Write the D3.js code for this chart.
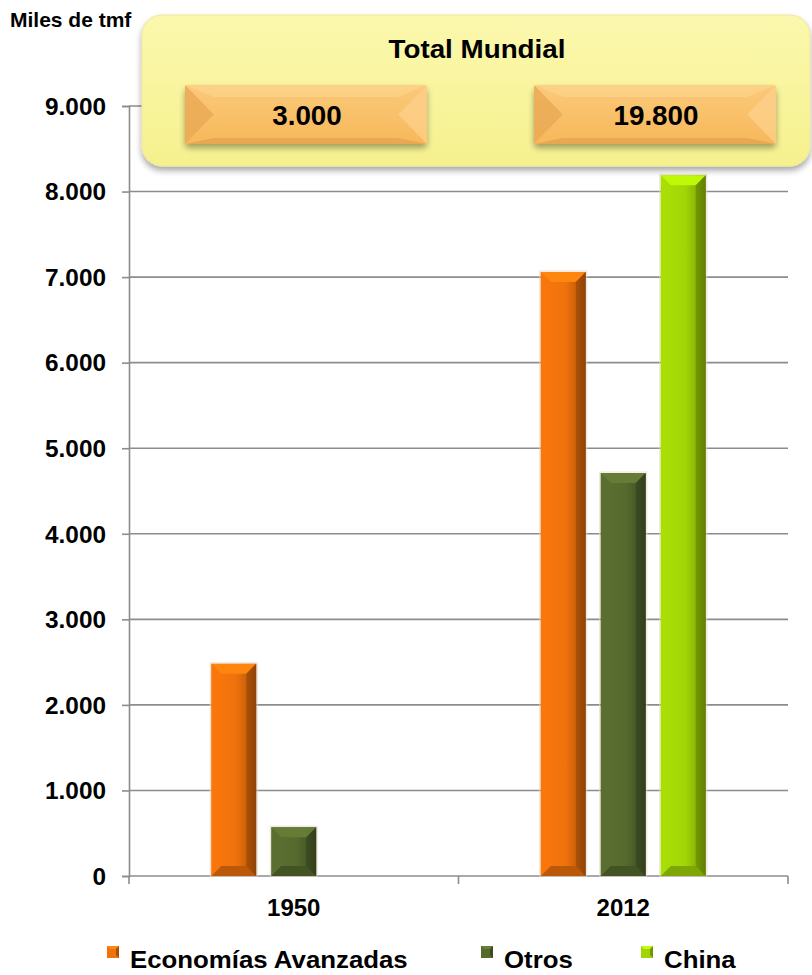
<!DOCTYPE html>
<html><head><meta charset="utf-8">
<script src="https://cdn.jsdelivr.net/npm/d3@7"></script>
<style>
html,body{margin:0;padding:0;background:#fff;}
svg{display:block;font-family:"Liberation Sans",Arial,sans-serif;}
</style></head>
<body><svg id="c" width="812" height="975"></svg>
<script>
const years = ["1950", "2012"];
const seriesNames = ["Economías Avanzadas", "Otros", "China"];
const economiasAvanzadas = [2480, 7060];
const otros = [570, 4710];
const china = [0, 8190];
const totals = ["3.000", "19.800"];
const yTicks = [0, 1000, 2000, 3000, 4000, 5000, 6000, 7000, 8000, 9000];
const colors = ["#ef720c", "#566a2e", "#a2d506"];

const svg = d3.select("#c");
const defs = svg.append("defs");
const x0 = d3.scaleBand().domain(years).range([129, 788]).paddingInner(0).paddingOuter(0);
const x1 = d3.scaleBand().domain(seriesNames).range([0, x0.bandwidth()]).paddingInner(0.25).paddingOuter(1.371);
const y = d3.scaleLinear().domain([0, 9000]).range([876, 106]);
const fmt = v => d3.format(",")(v).replace(/,/g, ".");
// widen text slightly (reference glyphs are a bit wider than Liberation Sans)
function widen(sel, k) {
  sel.each(function() {
    const L = this.getComputedTextLength();
    d3.select(this).attr("textLength", L * k).attr("lengthAdjust", "spacingAndGlyphs");
  });
}

// gridlines
svg.append("g").selectAll("line").data(yTicks.filter(d => d > 0)).join("line")
  .attr("x1", 129).attr("x2", 788).attr("y1", d => y(d)).attr("y2", d => y(d))
  .attr("stroke", "#8c8c8c").attr("stroke-width", 1.6);

// axes
const yAxis = svg.append("g").attr("transform", "translate(129,0)")
  .call(d3.axisLeft(y).tickValues(yTicks).tickFormat(fmt).tickSize(7).tickPadding(16));
yAxis.select(".domain").attr("stroke", "#8c8c8c").attr("stroke-width", 1.6);
yAxis.selectAll(".tick line").attr("stroke", "#8c8c8c").attr("stroke-width", 1.6);
yAxis.selectAll("text").attr("font-size", 23).attr("font-weight", "bold").attr("fill", "#000")
  .attr("font-family", "'Liberation Sans',Arial,sans-serif").attr("dy", "0.36em");
widen(yAxis.selectAll("text"), 1.06);

const xAxis = svg.append("g").attr("transform", "translate(0,876)")
  .call(d3.axisBottom(x0).tickSize(0).tickPadding(23));
xAxis.select(".domain").attr("stroke", "#8c8c8c").attr("stroke-width", 1.6).attr("d", "M129,0H788");
xAxis.selectAll("text").attr("font-size", 24).attr("font-weight", "bold").attr("fill", "#000")
  .attr("font-family", "'Liberation Sans',Arial,sans-serif");
svg.append("g").selectAll("line").data([129, 458.5, 788]).join("line")
  .attr("x1", d => d).attr("x2", d => d).attr("y1", 876).attr("y2", 884)
  .attr("stroke", "#8c8c8c").attr("stroke-width", 1.6);

// bar gradients
colors.forEach((c, i) => {
  const g = defs.append("linearGradient").attr("id", "hg" + i).attr("x1", 0).attr("x2", 1).attr("y1", 0).attr("y2", 0);
  const base = d3.color(c);
  g.append("stop").attr("offset", 0).attr("stop-color", base.brighter(0.15));
  g.append("stop").attr("offset", 0.55).attr("stop-color", base);
  g.append("stop").attr("offset", 0.82).attr("stop-color", base.darker(0.5));
  g.append("stop").attr("offset", 1).attr("stop-color", base.darker(1.5));
});

const data = [];
years.forEach((yr, j) => {
  [economiasAvanzadas, otros, china].forEach((arr, i) => {
    if (arr[j] > 0) data.push({year: yr, s: seriesNames[i], i, v: arr[j]});
  });
});

const bars = svg.append("g").selectAll("g").data(data).join("g")
  .attr("transform", d => `translate(${x0(d.year) + x1(d.s)},0)`);
bars.each(function(d) {
  const g = d3.select(this);
  const w = x1.bandwidth(), top = y(d.v), bot = y(0), h = bot - top;
  const b = Math.min(10, h / 3);
  const base = d3.color(colors[d.i]);
  g.append("rect").attr("x", -1).attr("y", top - 1).attr("width", w + 2).attr("height", h + 1)
    .attr("fill", "none").attr("stroke", "#ead8cc").attr("stroke-width", 1.2).attr("opacity", 0.7);
  g.append("rect").attr("x", 0).attr("y", top).attr("width", w).attr("height", h).attr("fill", `url(#hg${d.i})`);
  g.append("path").attr("d", `M0,${top}H${w}L${w - b},${top + b}H${b}Z`).attr("fill", base.brighter(0.45));
  g.append("path").attr("d", `M0,${bot}H${w}L${w - b},${bot - b}H${b}Z`).attr("fill", base.darker(0.7));
  g.append("path").attr("d", `M${w},${top}V${bot}L${w - b},${bot - b}V${top + b}Z`).attr("fill", base.darker(1.4)).attr("opacity", 0.6);
  g.append("path").attr("d", `M0,${top}V${bot}L${b},${bot - b}V${top + b}Z`).attr("fill", base.brighter(0.1)).attr("opacity", 0.5);
});

// Miles de tmf
svg.append("text").attr("x", 10).attr("y", 27).text("Miles de tmf")
  .attr("font-size", 21).attr("font-weight", "bold").attr("fill", "#000");

// Total Mundial box
const sh = defs.append("filter").attr("id", "sh").attr("x", -0.1).attr("y", -0.2).attr("width", 1.2).attr("height", 1.5);
sh.append("feDropShadow").attr("dx", 0).attr("dy", 4).attr("stdDeviation", 3).attr("flood-color", "#000").attr("flood-opacity", 0.35);
const yg = defs.append("linearGradient").attr("id", "yg").attr("x1", 0).attr("x2", 0).attr("y1", 0).attr("y2", 1);
yg.append("stop").attr("offset", 0).attr("stop-color", "#fbf8ae");
yg.append("stop").attr("offset", 1).attr("stop-color", "#f6f18e");
svg.append("rect").attr("x", 142).attr("y", 15).attr("width", 668).attr("height", 151).attr("rx", 20)
  .attr("fill", "url(#yg)").attr("stroke", "#eee79a").attr("stroke-width", 1).attr("filter", "url(#sh)");
svg.append("text").attr("x", 477).attr("y", 58).attr("text-anchor", "middle").text("Total Mundial")
  .attr("font-size", 26).attr("font-weight", "bold").attr("fill", "#000")
  .attr("textLength", 177).attr("lengthAdjust", "spacingAndGlyphs");

const og = defs.append("linearGradient").attr("id", "og").attr("x1", 0).attr("x2", 0).attr("y1", 0).attr("y2", 1);
og.append("stop").attr("offset", 0).attr("stop-color", "#fbc97a");
og.append("stop").attr("offset", 1).attr("stop-color", "#f7b85a");
const btnX = [185, 534];
const btn = svg.append("g").selectAll("g").data(totals).join("g")
  .attr("transform", (d, i) => `translate(${btnX[i]},85)`);
const bw = 242, bh = 59, bb = 12;
btn.append("rect").attr("width", bw).attr("height", bh).attr("rx", 4).attr("fill", "url(#og)").attr("filter", "url(#sh)");
btn.append("path").attr("d", `M0,0L${bb * 2.4},${bh / 2}L0,${bh}Z`).attr("fill", "#eaa955").attr("opacity", 0.8);
btn.append("path").attr("d", `M${bw},0L${bw - bb * 2.4},${bh / 2}L${bw},${bh}Z`).attr("fill", "#fcd08a").attr("opacity", 0.8);
btn.append("path").attr("d", `M0,0H${bw}L${bw - bb * 2.4},${bb}H${bb * 2.4}Z`).attr("fill", "#fdd58f").attr("opacity", 0.6);
btn.append("path").attr("d", `M0,${bh}H${bw}L${bw - bb * 2.4},${bh - 6}H${bb * 2.4}Z`).attr("fill", "#d9974a").attr("opacity", 0.5);
const btnText = btn.append("text").attr("x", bw / 2 + 1).attr("y", 40).attr("text-anchor", "middle").text(d => d)
  .attr("font-size", 27).attr("font-weight", "bold").attr("fill", "#000");
widen(btnText, 1.03);

// legend
const legX = [107, 481, 641];
const leg = svg.append("g").selectAll("g").data(seriesNames).join("g")
  .attr("transform", (d, i) => `translate(${legX[i]},946)`);
leg.append("rect").attr("width", 12).attr("height", 12).attr("fill", (d, i) => colors[i]);
leg.append("path").attr("d", "M0,0H12L9,3H3Z").attr("fill", (d, i) => d3.color(colors[i]).brighter(0.5));
leg.append("path").attr("d", "M12,0V12L9,9V3Z").attr("fill", (d, i) => d3.color(colors[i]).darker(1));
const legText = leg.append("text").attr("x", 23).attr("y", 22).text(d => d)
  .attr("font-size", 24).attr("font-weight", "bold").attr("fill", "#000");
widen(legText, 1.075);
</script></body></html>
